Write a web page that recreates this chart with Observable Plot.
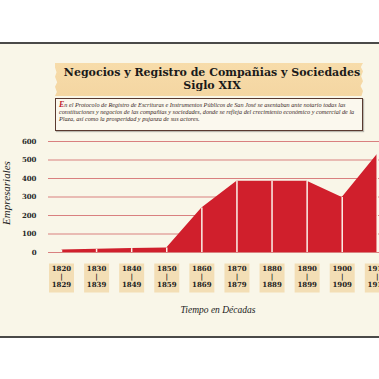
<!DOCTYPE html>
<html>
<head>
<meta charset="utf-8">
<script src="https://cdn.jsdelivr.net/npm/d3@7"></script>
<script src="https://cdn.jsdelivr.net/npm/@observablehq/plot@0.6"></script>
<style>
  html, body { margin: 0; padding: 0; background: #ffffff; }
  body { width: 379px; height: 379px; overflow: hidden; position: relative; }
  #panel { position: absolute; left: 0; top: 42px; width: 379px; height: 292px;
    background: #f9f6e8; border-top: 2px solid #4a4a48; border-bottom: 2px solid #4a4a48; }
  #titlebox { position: absolute; left: 55px; top: 63px; width: 308px; height: 33px;
    background: linear-gradient(#f7dcaa, #f4d6a2); 
    clip-path: polygon(0 0, 100% 0, 99.3% 12%, 100% 25%, 99.4% 40%, 100% 55%, 99.2% 70%, 100% 85%, 99.5% 100%, 0 100%, 0.6% 88%, 0 72%, 0.7% 58%, 0 42%, 0.5% 28%, 0 14%);
    font-family: "DejaVu Serif", serif; font-weight: bold; font-size: 11px; color: #1a1a1a;
    text-align: center; line-height: 13px; padding-top: 3px; padding-left: 6px; box-sizing: border-box; }
  #subbox { position: absolute; left: 55px; top: 98px; width: 308px; height: 33px;
    background: #fbf8ee; border: 1px solid #5a3a30; box-sizing: border-box;
    box-shadow: 1px 1px 1px rgba(0,0,0,0.25);
    font-family: "Liberation Serif", serif; font-style: italic; font-size: 6.2px; line-height: 7px;
    color: #3a2a28; padding: 2px 3px; white-space: nowrap; }
  #subbox .cap { color: #c0202a; font-weight: bold; font-size: 8px; }
  #plot { position: absolute; left: 0; top: 130px; width: 447px; }
  #plot svg { max-width: none !important; }
  #ylab { position: absolute; left: 6px; top: 193px; transform: translate(-50%, -50%) rotate(-90deg);
    font-family: "Liberation Serif", serif; font-style: italic; font-size: 11px; color: #222; white-space: nowrap; }
  #xlab { position: absolute; left: 218px; top: 310px; transform: translate(-50%, -50%);
    font-family: "Liberation Serif", serif; font-style: italic; font-size: 9.5px; color: #222; white-space: nowrap; }
</style>
</head>
<body>
<div id="panel"></div>
<div id="titlebox">Negocios y Registro de Compañias y Sociedades<br>Siglo XIX</div>
<div id="subbox"><span class="cap">E</span>n el Protocolo de Registro de Escrituras e Instrumentos Públicos de San José se asentaban ante notario todas las<br>constituciones y negocios de las compañías y sociedades, donde se refleja del crecimiento económico y comercial de la<br>Plaza, así como la prosperidad y pujanza de sus actores.</div>
<div id="ylab">Empresariales</div>
<div id="xlab">Tiempo en Décadas</div>
<div id="plot"></div>
<script>
// Data
const decades = [1820, 1830, 1840, 1850, 1860, 1870, 1880, 1890, 1900, 1910];
const empresas = [14, 17, 21, 25, 240, 385, 385, 385, 297, 530];
const yTicks = [0, 100, 200, 300, 400, 500, 600];

const rows = decades.map((d, i) => ({decade: d, value: empresas[i]}));

const boxSymbol = { draw(ctx) { ctx.rect(-12.5, -14.5, 25, 29); } };

const chart = Plot.plot({
  width: 447,
  height: 192,
  marginTop: 11,
  marginBottom: 70,
  marginLeft: 48,
  marginRight: 0,
  style: { background: "transparent", overflow: "visible", maxWidth: "none" },
  x: { domain: [1816.3, 1930], axis: null },
  y: { domain: [0, 600], axis: null },
  marks: [
    Plot.ruleY(yTicks, { stroke: "#d9807f", strokeWidth: 1 }),
    Plot.areaY(rows, { x: "decade", y: "value", fill: "#d01f2c", curve: "linear" }),
    Plot.ruleX(rows, { x: "decade", y1: 0, y2: "value", stroke: "#fbf3ea", strokeWidth: 1.5 }),
    Plot.text(yTicks, { y: d => d, text: d => String(d), frameAnchor: "left", dx: -12, textAnchor: "end",
      fontSize: 7, fontWeight: "bold", fontFamily: "DejaVu Serif", fill: "#2a2a2a" }),
    Plot.dot(decades, { x: d => d, frameAnchor: "bottom", dy: 25.5, symbol: boxSymbol, r: 1,
      fill: "#f3deb5", stroke: "none" }),
    Plot.text(decades, { x: d => d, text: d => `${d}\n|\n${d + 9}`, frameAnchor: "bottom", lineAnchor: "middle",
      dy: 23.5, lineHeight: 1.15, fontSize: 7, fontWeight: "bold", fontFamily: "DejaVu Serif", fill: "#222" })
  ]
});
document.getElementById("plot").appendChild(chart);
</script>
</body>
</html>
